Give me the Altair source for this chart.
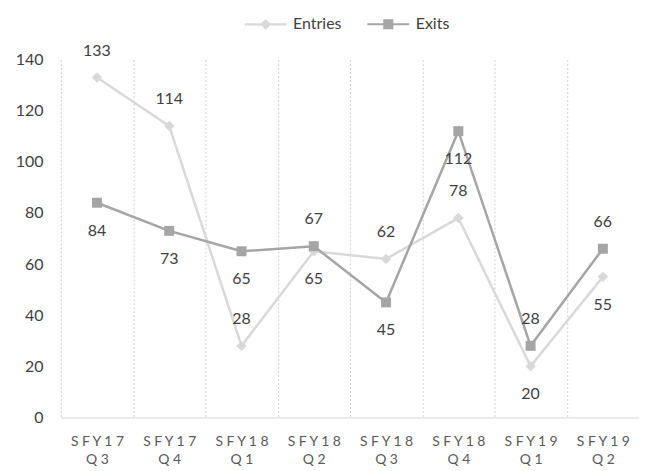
import altair as alt
import pandas as pd

quarters = ["SFY17 Q3", "SFY17 Q4", "SFY18 Q1", "SFY18 Q2",
            "SFY18 Q3", "SFY18 Q4", "SFY19 Q1", "SFY19 Q2"]
entries = [133, 114, 28, 65, 62, 78, 20, 55]
exits = [84, 73, 65, 67, 45, 112, 28, 66]
entries_label_side = ["above", "above", "above", "below", "above", "above", "below", "below"]
exits_label_side = ["below", "below", "below", "above", "below", "below", "above", "above"]

series_names = ["Entries", "Exits"]
series_colors = ["#d9d9d9", "#a5a5a5"]

rows = []
for name, vals, sides in [("Entries", entries, entries_label_side),
                          ("Exits", exits, exits_label_side)]:
    for q, v, s in zip(quarters, vals, sides):
        rows.append({"quarter": q, "series": name, "value": v, "side": s})
df = pd.DataFrame(rows)

FONT = "Lato"

spaced = ("datum.label ? [join(split(split(datum.label, ' ')[0], ''), ' '), "
          "join(split(split(datum.label, ' ')[1], ''), ' ')] : ''")

x = alt.X("quarter:N", sort=quarters, title=None,
          scale=alt.Scale(paddingInner=0, paddingOuter=0),
          axis=alt.Axis(grid=True, gridDash=[2, 2], gridColor="#d0d0d0",
                        tickBand="extent", domainColor="#d9d9d9", ticks=False,
                        labelAngle=0, labelExpr=spaced,
                        labelPadding=17, labelLineHeight=18, labelFont=FONT,
                        labelFontSize=14, labelColor="#595959"))
y = alt.Y("value:Q", title=None,
          scale=alt.Scale(domain=[0, 140], nice=False),
          axis=alt.Axis(values=list(range(0, 141, 20)), grid=False, domain=False,
                        ticks=False, labelPadding=18, labelFont=FONT,
                        labelFontSize=16, labelColor="#404040"))
color_scale = alt.Scale(domain=series_names, range=series_colors)

# legend symbols: a line with the marker drawn as nested outlines
entries_path = ("M-1,0H1"
                "M0,-0.18L0.18,0L0,0.18L-0.18,0Z"
                "M0,-0.07L0.07,0L0,0.07L-0.07,0Z")
exits_path = ("M-1,0H1"
              "M-0.19,-0.19H0.19V0.19H-0.19Z"
              "M-0.08,-0.08H0.08V0.08H-0.08Z")

legend_props = dict(title=None, orient="none", direction="horizontal",
                    legendX=183, legendY=-58, symbolSize=1764,
                    symbolStrokeWidth=2.2, labelFont=FONT, labelFontSize=16,
                    labelColor="#404040", columnPadding=21, labelOffset=5,
                    symbolOpacity=1)

base = alt.Chart(df)

legend_layer = base.mark_point(filled=False, strokeWidth=2.2, opacity=0).encode(
    x=x, y=y,
    color=alt.Color("series:N", scale=color_scale, legend=alt.Legend(**legend_props)),
    shape=alt.Shape("series:N",
                    scale=alt.Scale(domain=series_names, range=[entries_path, exits_path]),
                    legend=alt.Legend(**legend_props)),
)

lines = base.mark_line(strokeWidth=2.5).encode(
    x=x, y=y,
    color=alt.Color("series:N", scale=color_scale),
    detail="series:N",
)

pts_entries = base.transform_filter("datum.series === 'Entries'").mark_point(
    filled=True, opacity=1, size=110, shape="diamond").encode(
    x=x, y=y, color=alt.Color("series:N", scale=color_scale))

pts_exits = base.transform_filter("datum.series === 'Exits'").mark_point(
    filled=True, opacity=1, size=100, shape="square").encode(
    x=x, y=y, color=alt.Color("series:N", scale=color_scale))

labels_above = base.transform_filter("datum.side === 'above'").mark_text(
    font=FONT, fontSize=16, color="#404040", dy=-27).encode(
    x=x, y=y, text="value:Q")

labels_below = base.transform_filter("datum.side === 'below'").mark_text(
    font=FONT, fontSize=16, color="#404040", dy=28).encode(
    x=x, y=y, text="value:Q")

chart = alt.layer(legend_layer, lines, pts_entries, pts_exits,
                  labels_above, labels_below).properties(
    width=580, height=359,
    autosize=alt.AutoSizeParams(type="none"),
    padding={"left": 53, "top": 51, "right": 0, "bottom": 52},
).configure_view(stroke=None)

chart.save("out.html", embed_options={"renderer": "svg", "actions": False})
